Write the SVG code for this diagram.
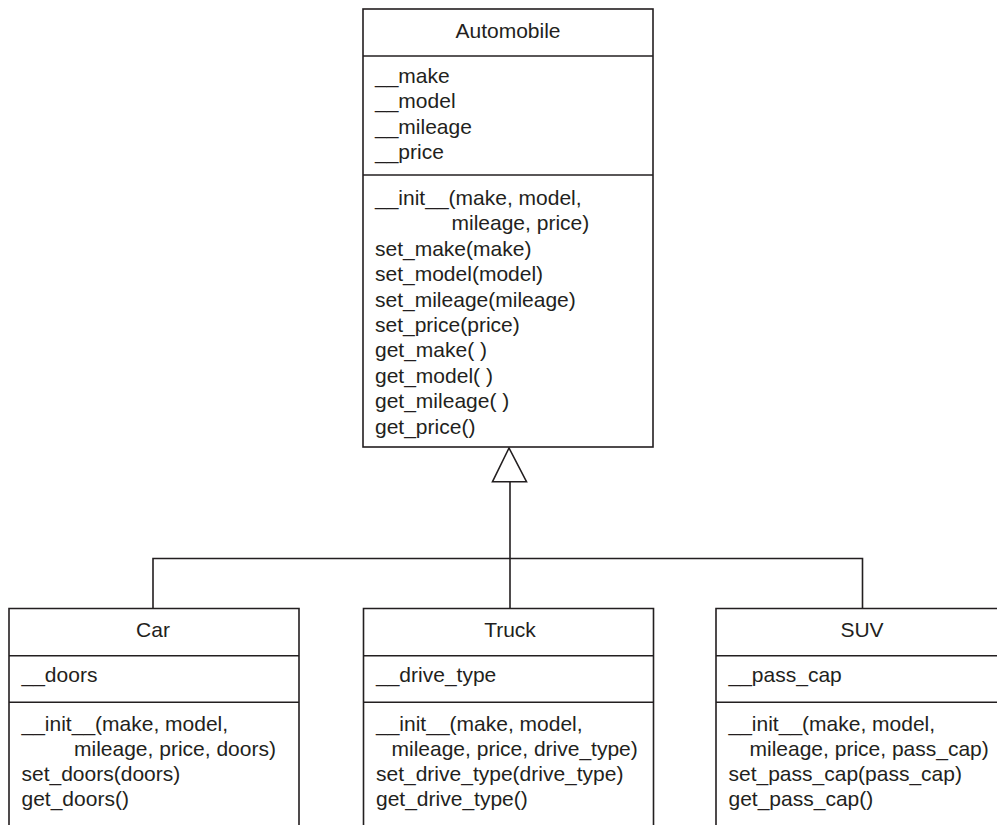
<svg xmlns="http://www.w3.org/2000/svg" width="997" height="825" viewBox="0 0 997 825">
<style>
.box{fill:#fff;stroke:#231f20;stroke-width:1.6}
.ln{fill:none;stroke:#231f20;stroke-width:1.6}
text{font-family:"Liberation Sans",Arial,sans-serif;font-size:21px;fill:#231f20}
.c{text-anchor:middle}
</style>
<rect width="997" height="825" fill="#fff"/>
<g id="connectors">
<polyline class="ln" points="153,608.5 153,558.5 862.5,558.5 862.5,608.5"/>
<line class="ln" x1="510" y1="481.7" x2="510" y2="608.5"/>
<polygon class="ln" points="509,448 492.5,481.7 526.5,481.7"/>
</g>
<g id="automobile">
<rect class="box" x="363" y="9" width="290" height="438"/>
<line class="ln" x1="363" y1="56" x2="653" y2="56"/>
<line class="ln" x1="363" y1="175" x2="653" y2="175"/>
<text class="c" x="508" y="38">Automobile</text>
<text x="375" y="82.5">__make</text>
<text x="375" y="108">__model</text>
<text x="375" y="133.5">__mileage</text>
<text x="375" y="159">__price</text>
<text x="375" y="205">__init__(make, model,</text>
<text x="451.5" y="230.4">mileage, price)</text>
<text x="375" y="255.8">set_make(make)</text>
<text x="375" y="281.2">set_model(model)</text>
<text x="375" y="306.6">set_mileage(mileage)</text>
<text x="375" y="332">set_price(price)</text>
<text x="375" y="357.4">get_make( )</text>
<text x="375" y="382.8">get_model( )</text>
<text x="375" y="408.2">get_mileage( )</text>
<text x="375" y="433.6">get_price()</text>
</g>
<g id="car">
<path class="ln" d="M9,830 V608.5 H299 V830"/>
<line class="ln" x1="9" y1="655.7" x2="299" y2="655.7"/>
<line class="ln" x1="9" y1="702.3" x2="299" y2="702.3"/>
<text class="c" x="153" y="637">Car</text>
<text x="21.5" y="682">__doors</text>
<text x="21.5" y="730.5">__init__(make, model,</text>
<text x="74" y="755.5">mileage, price, doors)</text>
<text x="21.5" y="780.5">set_doors(doors)</text>
<text x="21.5" y="805.5">get_doors()</text>
</g>
<g id="truck">
<path class="ln" d="M363.5,830 V608.5 H653.5 V830"/>
<line class="ln" x1="363.5" y1="655.7" x2="653.5" y2="655.7"/>
<line class="ln" x1="363.5" y1="702.3" x2="653.5" y2="702.3"/>
<text class="c" x="510" y="637">Truck</text>
<text x="376" y="682">__drive_type</text>
<text x="376" y="730.5">__init__(make, model,</text>
<text x="391.5" y="755.5">mileage, price, drive_type)</text>
<text x="376" y="780.5">set_drive_type(drive_type)</text>
<text x="376" y="805.5">get_drive_type()</text>
</g>
<g id="suv">
<path class="ln" d="M716,830 V608.5 H1006"/>
<line class="ln" x1="716" y1="655.7" x2="1006" y2="655.7"/>
<line class="ln" x1="716" y1="702.3" x2="1006" y2="702.3"/>
<text class="c" x="862" y="637">SUV</text>
<text x="728.5" y="682">__pass_cap</text>
<text x="728.5" y="730.5">__init__(make, model,</text>
<text x="749.5" y="755.5">mileage, price, pass_cap)</text>
<text x="728.5" y="780.5">set_pass_cap(pass_cap)</text>
<text x="728.5" y="805.5">get_pass_cap()</text>
</g>
</svg>
